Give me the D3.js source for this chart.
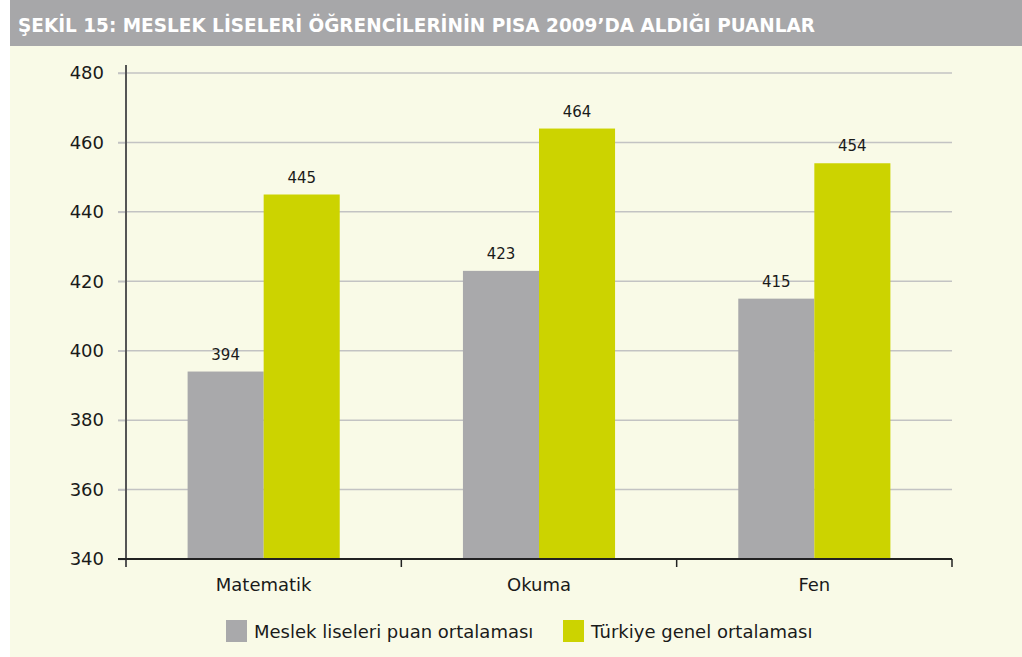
<!DOCTYPE html>
<html><head><meta charset="utf-8">
<script src="https://cdn.jsdelivr.net/npm/d3@7"></script>
<style>body{margin:0;background:#fff}svg{display:block}</style>
</head><body>
<svg id="c" width="1022" height="657"></svg>
<script>
const title = "ŞEKİL 15: MESLEK LİSELERİ ÖĞRENCİLERİNİN PISA 2009’DA ALDIĞI PUANLAR";
const categories = ["Matematik", "Okuma", "Fen"];
const seriesNames = ["Meslek liseleri puan ortalaması", "Türkiye genel ortalaması"];
const meslekValues = [394, 423, 415];
const turkiyeValues = [445, 464, 454];
const yTicks = [340, 360, 380, 400, 420, 440, 460, 480];
const colors = ["#a9a9ab", "#ccd300"];

const svg = d3.select("#c");
const font = "'DejaVu Sans', sans-serif";
svg.append("rect").attr("x",10).attr("y",0).attr("width",1012).attr("height",46).attr("fill","#a7a7a9");
svg.append("rect").attr("x",10).attr("y",46).attr("width",1012).attr("height",611).attr("fill","#f9fae7");
svg.append("text").attr("x",18).attr("y",32).text(title)
  .attr("fill","#fff").attr("font-family","'DejaVu Sans Condensed','DejaVu Sans',sans-serif")
  .attr("font-weight","bold").attr("font-size",20)
  .attr("textLength",797).attr("lengthAdjust","spacingAndGlyphs");

const pL=126, pR=952, pT=73, pB=559;
const y = d3.scaleLinear().domain([340,480]).range([pB,pT]);
const x0 = d3.scaleBand().domain(categories).range([pL,pR]).paddingInner(0).paddingOuter(0);
const x1 = d3.scaleBand().domain([0,1]).range([0,x0.bandwidth()]).paddingOuter(0.81).paddingInner(0);

// grid
svg.append("g").selectAll("line").data(yTicks.slice(1)).join("line")
  .attr("x1",118).attr("x2",pR).attr("y1",d=>y(d)).attr("y2",d=>y(d))
  .attr("stroke","#c3c3c3").attr("stroke-width",1.5);

const data = categories.map((c,i)=>({c, vals:[meslekValues[i], turkiyeValues[i]]}));
const g = svg.append("g");
data.forEach(d=>{
  d.vals.forEach((v,j)=>{
    g.append("rect").attr("x",x0(d.c)+x1(j)).attr("width",x1.bandwidth())
      .attr("y",y(v)).attr("height",y(340)-y(v)).attr("fill",colors[j]);
    g.append("text").attr("x",x0(d.c)+x1(j)+x1.bandwidth()/2).attr("y",y(v)-12)
      .attr("text-anchor","middle").attr("font-family",font).attr("font-size",15)
      .attr("fill","#1a1a1a").text(v);
  });
});

// y axis
const yAxis = d3.axisLeft(y).tickValues(yTicks).tickSize(8).tickPadding(14).tickSizeOuter(0);
const ya = svg.append("g").attr("transform",`translate(${pL},0)`).call(yAxis);
ya.select(".domain").remove();
ya.selectAll(".tick line").attr("stroke","#c3c3c3").attr("stroke-width",1.5);
ya.selectAll(".tick text").attr("font-family",font).attr("font-size",18).attr("fill","#1a1a1a");
svg.append("line").attr("x1",pL).attr("x2",pL).attr("y1",65).attr("y2",567).attr("stroke","#555").attr("stroke-width",2);

// x axis
svg.append("line").attr("x1",118).attr("x2",pR).attr("y1",pB).attr("y2",pB).attr("stroke","#222").attr("stroke-width",2);
const bounds = categories.map(c=>x0(c)+x0.bandwidth());
svg.append("g").selectAll("line").data(bounds).join("line")
  .attr("x1",d=>d).attr("x2",d=>d).attr("y1",pB).attr("y2",pB+8).attr("stroke","#222").attr("stroke-width",1.5);
const xAxis = d3.axisBottom(x0).tickSize(0).tickPadding(0);
const xa = svg.append("g").attr("transform",`translate(0,${pB})`).call(xAxis);
xa.select(".domain").remove();
xa.selectAll(".tick text").attr("font-family",font).attr("font-size",18).attr("fill","#1a1a1a").attr("dy",null).attr("y",32);

// legend
const legX = [226, 563];
seriesNames.forEach((s,i)=>{
  svg.append("rect").attr("x",legX[i]).attr("y",620).attr("width",21).attr("height",22).attr("fill",colors[i]);
  svg.append("text").attr("x",legX[i]+28).attr("y",638).attr("font-family",font).attr("font-size",18).attr("fill","#1a1a1a").text(s);
});
</script>
</body></html>
